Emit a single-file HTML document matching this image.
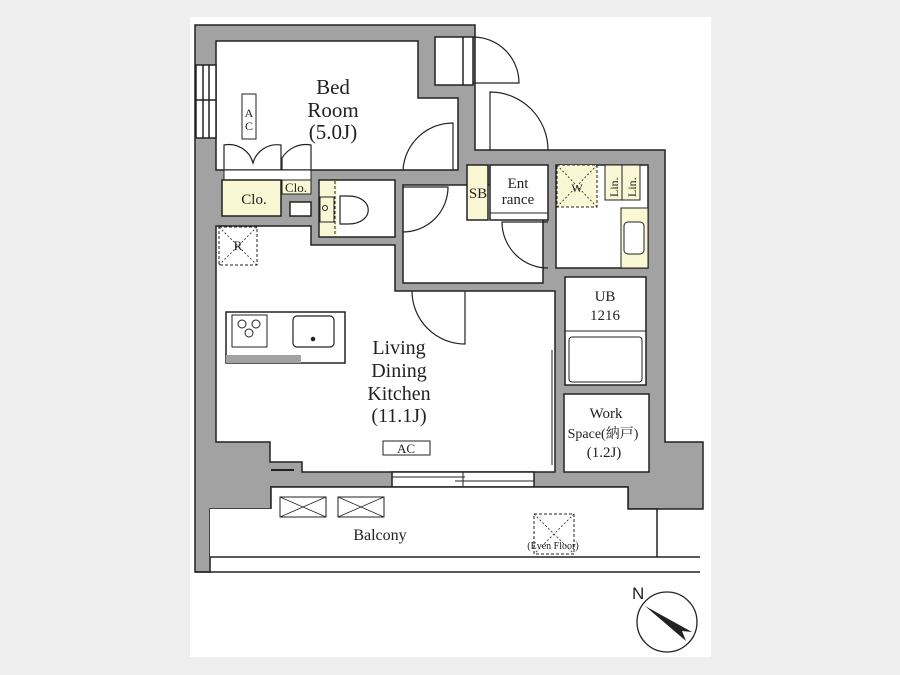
<!DOCTYPE html>
<html><head><meta charset="utf-8"><style>
html,body{margin:0;padding:0;background:#efefef;width:900px;height:675px;overflow:hidden}
svg{position:absolute;left:0;top:0}
text{font-family:"Liberation Serif","Noto Serif CJK SC",serif;fill:#222}
</style></head><body>
<svg width="900" height="675" viewBox="0 0 900 675">
<rect x="190" y="17" width="521" height="640" fill="#fff"/>
<g stroke="#222" stroke-width="1.5" fill="none">
<polygon fill="#a2a2a2" points="195,25 475,25 475,150 665,150 665,442 703,442 703,509 628,509 628,487 271,487 271,509 210,509 210,572 195,572"/>
<rect x="435" y="37" width="38" height="48" fill="#fff"/>
<line x1="463" y1="37" x2="463" y2="85"/>
<polygon fill="#fff" points="216,41 418,41 418,98 458,98 458,170 216,170"/>
<rect x="196" y="65" width="20" height="73" fill="#fff"/>
<line x1="203" y1="65" x2="203" y2="138"/><line x1="209" y1="65" x2="209" y2="138"/>
<line x1="196" y1="100" x2="216" y2="100"/>
<rect x="242" y="94" width="14" height="45" fill="#fff" stroke-width="1"/>
<rect x="224" y="170" width="87" height="10" fill="#fff" stroke-width="1"/>
<path d="M224,170 V145 A25,25 0 0 1 253,163 A25,25 0 0 1 281,145 V170 M282,170 V158 A28,28 0 0 1 311,145 V170" stroke-width="1.2"/>
<rect x="222" y="180" width="59" height="36" fill="#f9f7d4"/>
<rect x="282" y="180" width="29" height="14" fill="#f9f7d4" stroke-width="1"/>
<rect x="290" y="202" width="21" height="14" fill="#fff"/>
<rect x="319" y="180" width="76" height="57" fill="#fff"/>
<rect x="320" y="181" width="17" height="55" fill="#f9f7d4" stroke="none"/>
<line x1="335" y1="181" x2="335" y2="236" stroke-dasharray="3,2" stroke-width="1"/>
<path d="M340,196 H348 C375,196 375,224 348,224 H340 Z" fill="#fff" stroke-width="1.2"/>
<rect x="320" y="197" width="14" height="25" stroke-width="1"/>
<circle cx="325" cy="208" r="2.5" stroke-width="1"/>
<rect x="403" y="185" width="140" height="98" fill="#fff"/>
<rect x="467" y="165" width="21" height="55" fill="#f9f7d4"/>
<rect x="490" y="165" width="58" height="55" fill="#fff"/>
<line x1="490" y1="213" x2="548" y2="213" stroke-width="1"/>
<polygon fill="#fff" points="216,226 311,226 311,245 395,245 395,291 555,291 555,472 302,472 302,462 270,462 270,442 216,442"/>
<line x1="271" y1="470" x2="294" y2="470" stroke-width="2"/>
<rect x="219" y="227" width="38" height="38" stroke-dasharray="3,2" stroke-width="1"/>
<path d="M219,227 L257,265 M257,227 L219,265" stroke-dasharray="2,2" stroke-width="0.8"/>
<rect x="226" y="312" width="119" height="51" fill="#fff"/>
<rect x="226" y="355" width="75" height="8" fill="#a2a2a2" stroke="none"/>
<rect x="232" y="315" width="35" height="32" stroke-width="1"/>
<rect x="293" y="316" width="41" height="31" rx="4" stroke-width="1.2"/>
<circle cx="313" cy="339" r="1.5" fill="#222"/>
<g stroke-width="1"><circle cx="242" cy="324" r="4"/><circle cx="256" cy="324" r="4"/><circle cx="249" cy="333" r="4"/></g>
<rect x="392" y="472" width="142" height="15" fill="#fff"/>
<line x1="392" y1="477" x2="465" y2="477" stroke-width="1"/><line x1="455" y1="481" x2="534" y2="481" stroke-width="1"/>
<line x1="463" y1="472" x2="463" y2="487" stroke-width="1"/>
<rect x="383" y="441" width="47" height="14" stroke-width="1"/>
<line x1="552" y1="350" x2="552" y2="465" stroke-width="1"/>
<rect x="556" y="165" width="92" height="103" fill="#fff"/>
<rect x="557" y="165" width="40" height="42" fill="#f9f7d4" stroke-dasharray="3,2" stroke-width="1"/>
<path d="M557,165 L597,207 M597,165 L557,207" stroke-dasharray="2,2" stroke-width="0.8"/>
<rect x="605" y="165" width="17" height="35" fill="#f9f7d4" stroke-width="1"/>
<rect x="622" y="165" width="18" height="35" fill="#f9f7d4" stroke-width="1"/>
<rect x="621" y="208" width="27" height="60" fill="#f9f7d4" stroke-width="1"/>
<rect x="624" y="222" width="20" height="32" rx="4" fill="#fff" stroke-width="1"/>
<rect x="565" y="277" width="81" height="108" fill="#fff"/>
<line x1="565" y1="331" x2="646" y2="331" stroke-width="1"/>
<rect x="569" y="337" width="73" height="45" rx="3" stroke-width="1"/>
<rect x="564" y="394" width="85" height="78" fill="#fff"/>
<rect x="271" y="487" width="357" height="22" fill="#fff" stroke="none"/>
<rect x="210" y="509" width="447" height="48" fill="#fff" stroke="none"/>
<path d="M271,509 V487 H628 V509 H657 V557 M210,557 H700 M195,572 H700" />
<rect x="280" y="497" width="46" height="20" stroke-width="1"/><path d="M280,497 L326,517 M326,497 L280,517" stroke-width="0.8"/>
<rect x="338" y="497" width="46" height="20" stroke-width="1"/><path d="M338,497 L384,517 M384,497 L338,517" stroke-width="0.8"/>
<rect x="534" y="514" width="40" height="40" stroke-dasharray="3,2" stroke-width="1"/>
<path d="M534,514 L574,554 M574,514 L534,554" stroke-dasharray="2,2" stroke-width="0.8"/>
<path d="M473,37 A46,46 0 0 1 519,83 H473" stroke-width="1.2"/>
<path d="M490,150 V92 A58,58 0 0 1 548,150" stroke-width="1.2"/>
<path d="M453,170 V123 A50,50 0 0 0 403,170" stroke-width="1.2"/>
<path d="M403,187 H448 A45,45 0 0 1 403,232" stroke-width="1.2"/>
<path d="M548,222 H502 A46,46 0 0 0 548,268" stroke-width="1.2"/>
<path d="M465,291 V344 A53,53 0 0 1 412,291" stroke-width="1.2"/>
<circle cx="667" cy="622" r="30" stroke-width="1.3"/>
</g>
<polygon points="645,606 692,632 682,631 686,641" fill="#222"/>
<text x="632" y="599" font-size="17" style="font-family:'Liberation Sans',sans-serif">N</text>
<g text-anchor="middle">
<text x="333" y="94" font-size="21">Bed</text>
<text x="333" y="117" font-size="21">Room</text>
<text x="333" y="139" font-size="21">(5.0J)</text>
<text x="249" y="117" font-size="12">A</text><text x="249" y="130" font-size="12">C</text>
<text x="254" y="204" font-size="15">Clo.</text>
<text x="296" y="192" font-size="13">Clo.</text>
<text x="238" y="250" font-size="13">R</text>
<text x="478" y="198" font-size="15">SB</text>
<text x="518" y="188" font-size="15">Ent</text>
<text x="518" y="204" font-size="15">rance</text>
<text x="577" y="192" font-size="12">W</text>
<text x="399" y="354" font-size="20">Living</text>
<text x="399" y="377" font-size="20">Dining</text>
<text x="399" y="400" font-size="20">Kitchen</text>
<text x="399" y="422" font-size="20">(11.1J)</text>
<text x="406" y="453" font-size="13">AC</text>
<text x="605" y="301" font-size="15">UB</text>
<text x="605" y="320" font-size="15">1216</text>
<text x="606" y="418" font-size="15">Work</text>
<text x="603" y="438" font-size="14">Space(納戸)</text>
<text x="604" y="457" font-size="15">(1.2J)</text>
<text x="380" y="540" font-size="16">Balcony</text>
<text x="553" y="549" font-size="10">(Even Floor)</text>
</g>
<g font-size="12">
<text transform="translate(618,197) rotate(-90)">Lin.</text>
<text transform="translate(636,197) rotate(-90)">Lin.</text>
</g>
</svg>
</body></html>
